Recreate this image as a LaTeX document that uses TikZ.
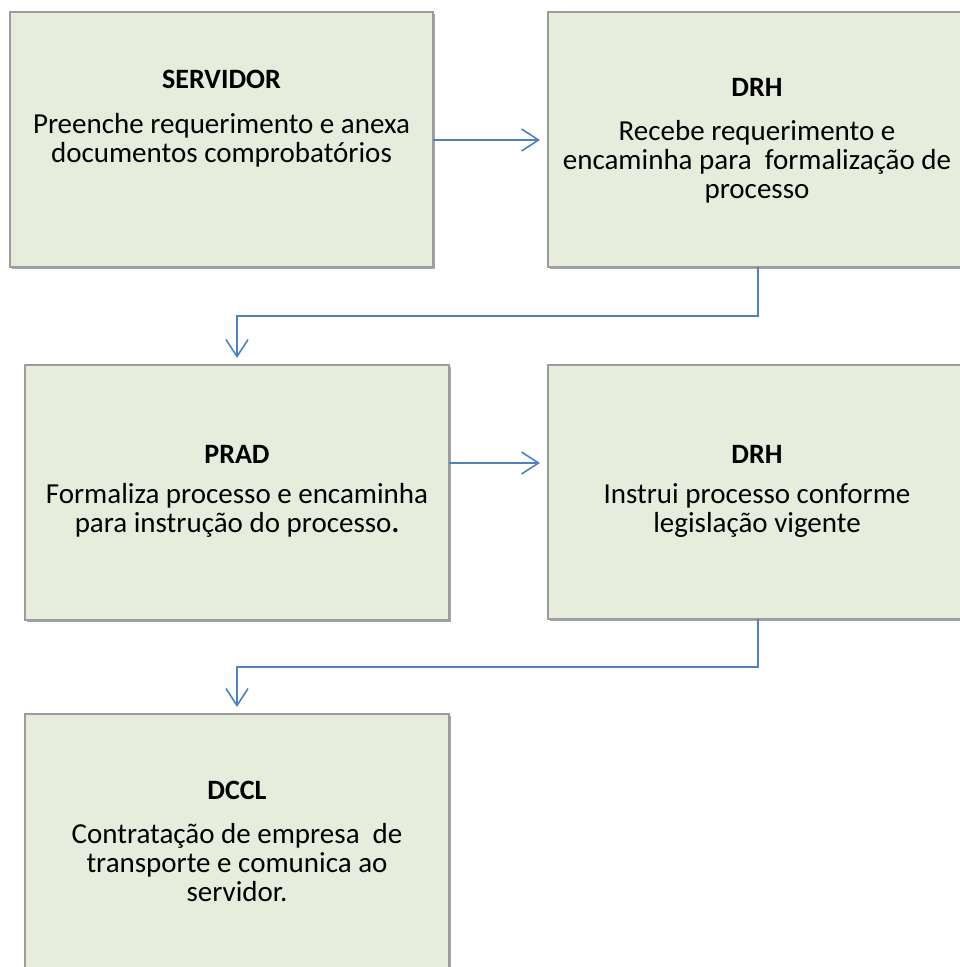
\documentclass[tikz,border=0pt]{standalone}
\usepackage{fontspec}
\setmainfont{Carlito}
\usetikzlibrary{arrows.meta,shadows}
\definecolor{boxfill}{HTML}{E6EDDC}
\definecolor{boxline}{HTML}{9C9C9C}
\definecolor{flow}{HTML}{4F81BD}
\begin{document}
\begin{tikzpicture}[x=1pt,y=-1pt,
  stepbox/.style={draw=boxline,line width=1.2pt,fill=boxfill,
    drop shadow={shadow xshift=1.5pt,shadow yshift=-2pt,opacity=0.35,fill=black}},
  % multi-line texts: the base anchor sits on the baseline of the last line
  boxtext/.style={align=center,font=\fontsize{29}{29}\selectfont,inner sep=0pt,anchor=base},
  boxtitle/.style={font=\fontsize{28}{29}\selectfont\bfseries,inner sep=0pt,anchor=base},
  flowline/.style={draw=flow,line width=1.6pt,-{Straight Barb[length=17pt,width=22pt,line width=1.6pt]}}]
\useasboundingbox (0,0) rectangle (959,967);
\fill[white] (0,0) rectangle (959,967);

% boxes
\path[stepbox] (10,12) rectangle (433,267);
\path[stepbox] (548,12) rectangle (975,267);
\path[stepbox] (25,365) rectangle (449,620);
\path[stepbox] (548,365) rectangle (975,619);
\path[stepbox] (25,714) rectangle (449,985);

% connector end points
\coordinate (b1r) at (433,140);
\coordinate (b2l) at (540,140);
\coordinate (b2b) at (758,267);
\coordinate (k1) at (758,316);
\coordinate (k2) at (237,316);
\coordinate (b3t) at (237,358);
\coordinate (b3r) at (449,463);
\coordinate (b4l) at (540,463);
\coordinate (b4b) at (758,619);
\coordinate (k3) at (758,667);
\coordinate (k4) at (237,667);
\coordinate (b5t) at (237,707);

% texts
\node[boxtitle] (t1) at (221.5,88) {SERVIDOR};
\node[boxtext] (d1) at (221.5,162) {Preenche requerimento e anexa\\documentos comprobatórios};

\node[boxtitle] (t2) at (757,96) {DRH};
\node[boxtext] (d2) at (757,198) {Recebe requerimento e\\encaminha para\ \ formalização de\\processo};

\node[boxtitle] (t3) at (237,463) {PRAD};
\node[boxtext] (d3) at (237,532) {Formaliza processo e encaminha\\para instrução do processo\textbf{.}};

\node[boxtitle] (t4) at (757,463) {DRH};
\node[boxtext] (d4) at (757,532) {Instrui processo conforme\\legislação vigente};

\node[boxtitle] (t5) at (237,799) {DCCL};
\node[boxtext] (d5) at (237,901) {Contratação de empresa\ \ de\\transporte e comunica ao\\servidor.};

% connectors
\draw[flowline] (b1r) -- (b2l);
\draw[flowline] (b2b) -- (k1) -- (k2) -- (b3t);
\draw[flowline] (b3r) -- (b4l);
\draw[flowline] (b4b) -- (k3) -- (k4) -- (b5t);
\end{tikzpicture}
\end{document}
